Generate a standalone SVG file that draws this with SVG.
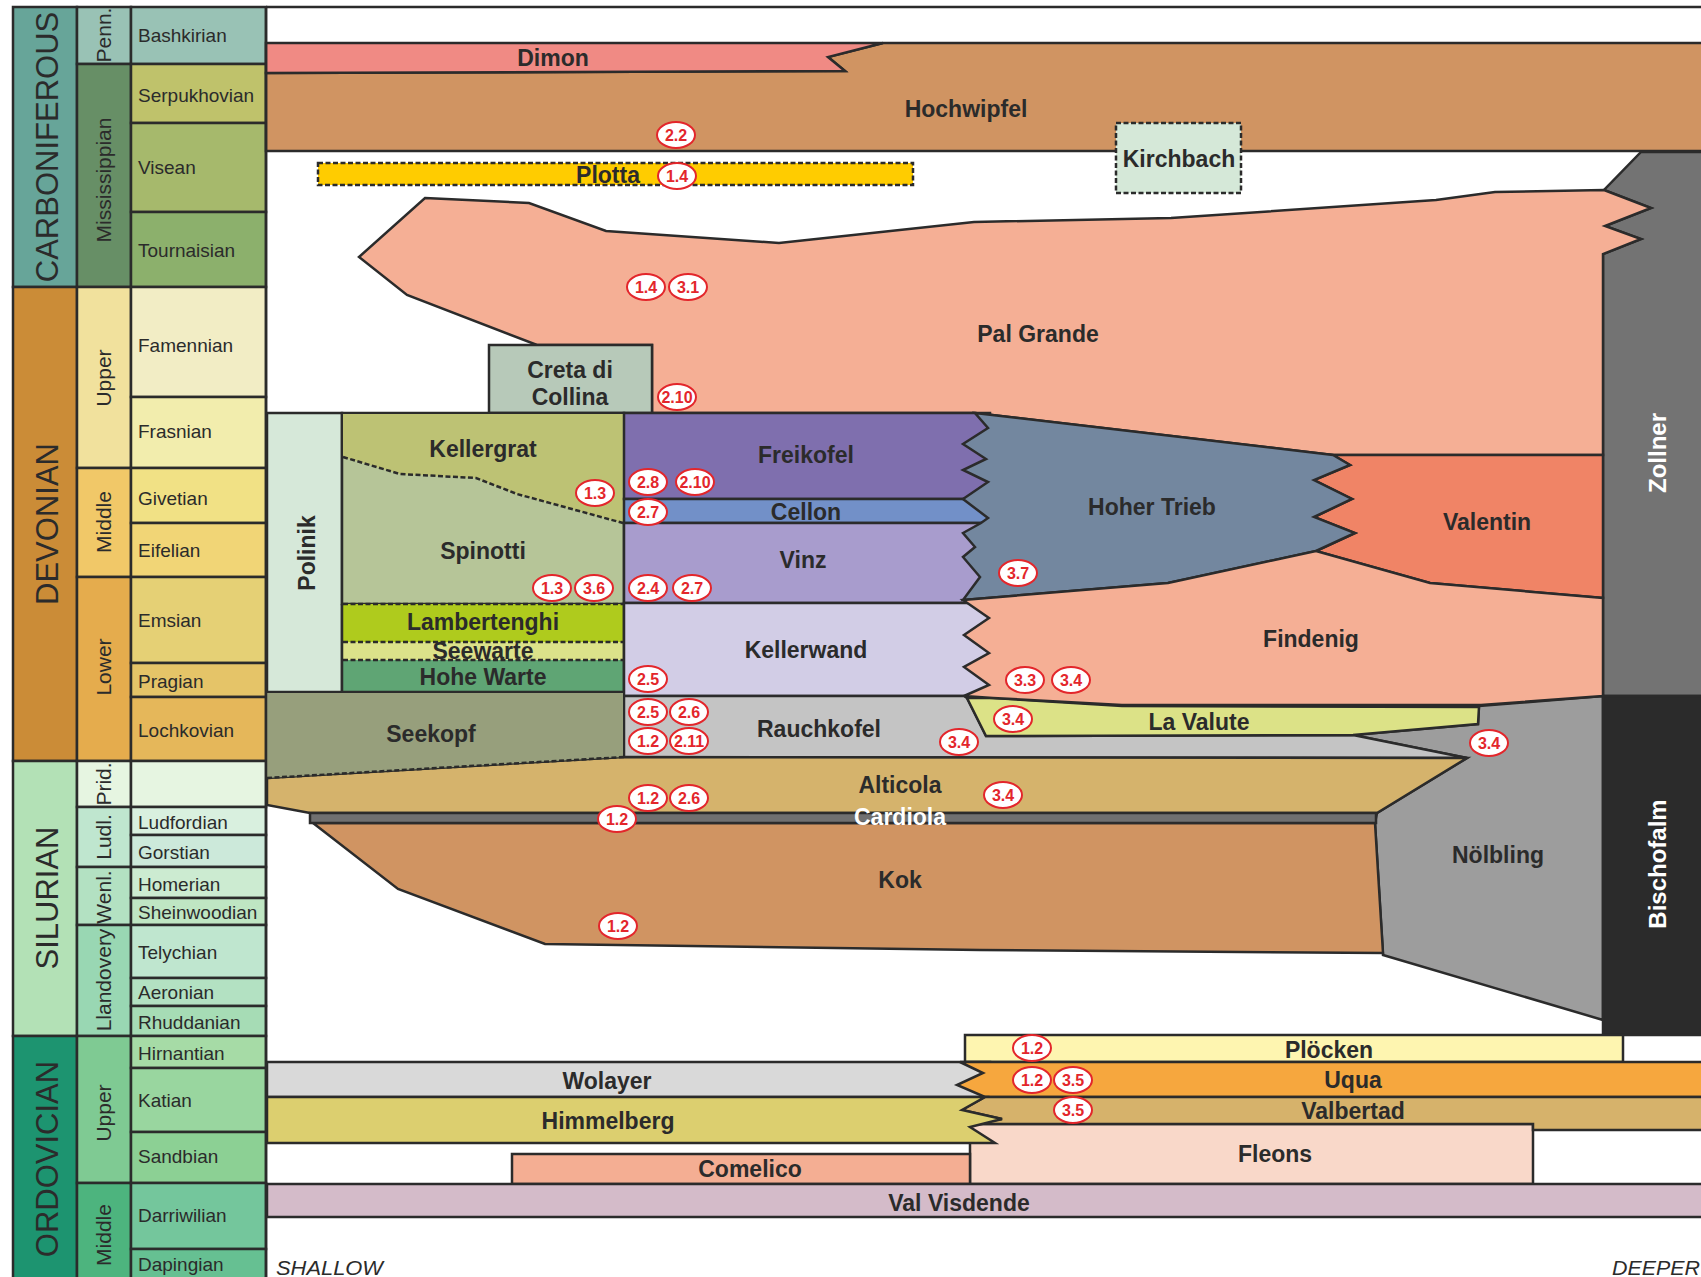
<svg xmlns="http://www.w3.org/2000/svg" width="1701" height="1277" viewBox="0 0 1701 1277">
<style>
.o{stroke:#2b2b2b;stroke-width:2.5;stroke-linejoin:miter}
.n{stroke:none}
.d{fill:none;stroke:#2b2b2b;stroke-width:2.5;stroke-dasharray:5 2.5}
.s{fill:none;stroke:#2b2b2b;stroke-width:2.5}
text{font-family:"Liberation Sans",Arial,sans-serif}
.l{font-weight:bold;font-size:23px;fill:#2b2b2b;text-anchor:middle}
.w{font-weight:bold;font-size:24px;fill:#ffffff;text-anchor:middle}
.st{font-size:19px;fill:#2b2b2b}
.ep{font-size:21px;fill:#2b2b2b;text-anchor:middle}
.pe{font-size:31px;fill:#2b2b2b;text-anchor:middle}
.it{font-size:20px;font-style:italic;fill:#2b2b2b}
.b text{font-weight:bold;font-size:16px;fill:#e3262b;text-anchor:middle}
</style>
<defs>
<ellipse id="bd" cx="0" cy="0" rx="19" ry="13" fill="#ffffff" stroke="#e3262b" stroke-width="2"/>
</defs>
<rect width="1701" height="1277" fill="#ffffff"/>

<g id="timescale">
<g id="periods">
<rect class="o" x="13" y="7" width="64" height="280" fill="#67a599"/>
<rect class="o" x="13" y="287" width="64" height="474" fill="#cb8c37"/>
<rect class="o" x="13" y="761" width="64" height="275" fill="#b3e1b6"/>
<rect class="o" x="13" y="1036" width="64" height="244" fill="#1d9470"/>
<text class="pe" transform="translate(58,147) rotate(-90)">CARBONIFEROUS</text>
<text class="pe" transform="translate(58,524) rotate(-90)">DEVONIAN</text>
<text class="pe" transform="translate(58,898) rotate(-90)">SILURIAN</text>
<text class="pe" transform="translate(58,1159) rotate(-90)">ORDOVICIAN</text>
</g>
<g id="epochs">
<rect class="o" x="77" y="7" width="54" height="57" fill="#99c2b5"/>
<rect class="o" x="77" y="64" width="54" height="223" fill="#678f66"/>
<rect class="o" x="77" y="287" width="54" height="181" fill="#f1e19d"/>
<rect class="o" x="77" y="468" width="54" height="109" fill="#f1c868"/>
<rect class="o" x="77" y="577" width="54" height="184" fill="#e5ac4d"/>
<rect class="o" x="77" y="761" width="54" height="46" fill="#e6f5e1"/>
<rect class="o" x="77" y="807" width="54" height="60" fill="#bfe6cf"/>
<rect class="o" x="77" y="867" width="54" height="58" fill="#b3e1c2"/>
<rect class="o" x="77" y="925" width="54" height="111" fill="#99d7b3"/>
<rect class="o" x="77" y="1036" width="54" height="147" fill="#7fca93"/>
<rect class="o" x="77" y="1183" width="54" height="97" fill="#4db47e"/>
<text class="ep" transform="translate(111,35) rotate(-90)">Penn.</text>
<text class="ep" transform="translate(111,180) rotate(-90)">Mississippian</text>
<text class="ep" transform="translate(111,378) rotate(-90)">Upper</text>
<text class="ep" transform="translate(111,522) rotate(-90)">Middle</text>
<text class="ep" transform="translate(111,667) rotate(-90)">Lower</text>
<text class="ep" transform="translate(111,784) rotate(-90)">Prid.</text>
<text class="ep" transform="translate(111,837) rotate(-90)">Ludl.</text>
<text class="ep" transform="translate(111,897) rotate(-90)">Wenl.</text>
<text class="ep" transform="translate(111,980) rotate(-90)">Llandovery</text>
<text class="ep" transform="translate(111,1113) rotate(-90)">Upper</text>
<text class="ep" transform="translate(111,1235) rotate(-90)">Middle</text>
</g>
<g id="stages">
<rect class="o" x="131" y="7" width="135" height="57" fill="#99c2b5"/>
<rect class="o" x="131" y="64" width="135" height="59" fill="#bfc26b"/>
<rect class="o" x="131" y="123" width="135" height="89" fill="#a6b96c"/>
<rect class="o" x="131" y="212" width="135" height="75" fill="#8cb06c"/>
<rect class="o" x="131" y="287" width="135" height="110" fill="#f2edc5"/>
<rect class="o" x="131" y="397" width="135" height="71" fill="#f2edad"/>
<rect class="o" x="131" y="468" width="135" height="55" fill="#f1e185"/>
<rect class="o" x="131" y="523" width="135" height="54" fill="#f1d576"/>
<rect class="o" x="131" y="577" width="135" height="86" fill="#e5d075"/>
<rect class="o" x="131" y="663" width="135" height="34" fill="#e5c468"/>
<rect class="o" x="131" y="697" width="135" height="64" fill="#e5b75a"/>
<rect class="o" x="131" y="761" width="135" height="46" fill="#e6f5e1"/>
<rect class="o" x="131" y="807" width="135" height="28" fill="#d9f0df"/>
<rect class="o" x="131" y="835" width="135" height="32" fill="#cce9da"/>
<rect class="o" x="131" y="867" width="135" height="31" fill="#ccebd1"/>
<rect class="o" x="131" y="898" width="135" height="27" fill="#bfe6c3"/>
<rect class="o" x="131" y="925" width="135" height="53" fill="#bfe6cf"/>
<rect class="o" x="131" y="978" width="135" height="28" fill="#b3e1c2"/>
<rect class="o" x="131" y="1006" width="135" height="30" fill="#a6dcb5"/>
<rect class="o" x="131" y="1036" width="135" height="32" fill="#a6dba6"/>
<rect class="o" x="131" y="1068" width="135" height="64" fill="#99d69f"/>
<rect class="o" x="131" y="1132" width="135" height="51" fill="#8cd094"/>
<rect class="o" x="131" y="1183" width="135" height="66" fill="#74c69c"/>
<rect class="o" x="131" y="1249" width="135" height="31" fill="#66c092"/>
<text class="st" x="138" y="42">Bashkirian</text>
<text class="st" x="138" y="102">Serpukhovian</text>
<text class="st" x="138" y="174">Visean</text>
<text class="st" x="138" y="257">Tournaisian</text>
<text class="st" x="138" y="352">Famennian</text>
<text class="st" x="138" y="438">Frasnian</text>
<text class="st" x="138" y="505">Givetian</text>
<text class="st" x="138" y="557">Eifelian</text>
<text class="st" x="138" y="627">Emsian</text>
<text class="st" x="138" y="688">Pragian</text>
<text class="st" x="138" y="737">Lochkovian</text>
<text class="st" x="138" y="829">Ludfordian</text>
<text class="st" x="138" y="859">Gorstian</text>
<text class="st" x="138" y="891">Homerian</text>
<text class="st" x="138" y="919">Sheinwoodian</text>
<text class="st" x="138" y="959">Telychian</text>
<text class="st" x="138" y="999">Aeronian</text>
<text class="st" x="138" y="1029">Rhuddanian</text>
<text class="st" x="138" y="1060">Hirnantian</text>
<text class="st" x="138" y="1107">Katian</text>
<text class="st" x="138" y="1163">Sandbian</text>
<text class="st" x="138" y="1222">Darriwilian</text>
<text class="st" x="138" y="1271">Dapingian</text>
</g>
</g>

<g id="frame"><line class="s" x1="266" y1="7" x2="1701" y2="7"/></g>

<g id="units">
<g id="hochwipfel"><polygon class="o" fill="#d09462" points="266,73 845,71 828,57 883,43 1703,43 1703,151 266,151"/><text class="l" x="966" y="117">Hochwipfel</text></g>
<g id="dimon"><polygon class="o" fill="#f08a84" points="266,43 883,43 828,57 845,71 266,73"/><text class="l" x="553" y="66">Dimon</text></g>
<g id="kirchbach"><rect x="1116" y="123" width="125" height="70" fill="#d5e8d8"/><rect class="d" x="1116" y="123" width="125" height="70"/><text class="l" x="1179" y="167">Kirchbach</text></g>
<g id="plotta"><rect x="318" y="163" width="595" height="22" fill="#ffcc00"/><rect class="d" x="318" y="163" width="595" height="22"/><text class="l" x="608" y="183">Plotta</text></g>
<g id="zollner"><polygon class="o" fill="#737373" points="1641,152 1703,152 1703,696 1603,696 1603,254 1641,239 1605,226 1651,208 1604,190"/><text class="w" transform="translate(1666,453) rotate(-90)">Zollner</text></g>
<g id="pal-grande"><polygon class="o" fill="#f5af95" points="425,198 529,203 606,231 779,243 974,222 1171,218 1436,200 1495,192 1604,190 1651,208 1605,226 1641,239 1603,254 1603,455 1333,455 975,413 652,413 652,345 537,345 407,295 359,257"/><text class="l" x="1038" y="342">Pal Grande</text></g>
<g id="creta-di-collina"><rect class="o" x="489" y="345" width="163" height="68" fill="#b7c9b9"/><text class="l" x="570" y="378">Creta di</text><text class="l" x="570" y="405">Collina</text></g>
<g id="polinik"><rect class="o" x="267" y="413" width="75" height="279" fill="#d6e8d9"/><text class="l" transform="translate(315,553) rotate(-90)">Polinik</text></g>
<g id="spinotti"><rect class="o" x="342" y="413" width="282" height="191" fill="#b6c598"/><text class="l" x="483" y="559">Spinotti</text></g>
<g id="kellergrat"><polygon class="n" fill="#bdc274" points="343,414 623,414 623,523 517,494 476,478 400,474 343,457"/><polyline class="d" points="343,457 400,474 476,478 517,494 623,523"/><text class="l" x="483" y="457">Kellergrat</text></g>
<g id="lambertenghi"><rect x="342" y="604" width="282" height="38" fill="#afcb1d"/><text class="l" x="483" y="630">Lambertenghi</text></g>
<g id="seewarte"><rect x="342" y="642" width="282" height="18" fill="#dce28a"/><text class="l" x="483" y="659">Seewarte</text></g>
<g id="hohe-warte"><rect x="342" y="660" width="282" height="32" fill="#5fa574"/><text class="l" x="483" y="685">Hohe Warte</text></g>
<g id="lamb-lines"><line class="d" x1="343" y1="604" x2="623" y2="604"/><line class="d" x1="343" y1="642" x2="623" y2="642"/><line class="d" x1="343" y1="660" x2="623" y2="660"/><polyline class="s" points="342,604 342,692 624,692 624,604"/></g>
<g id="freikofel"><rect class="o" x="624" y="413" width="366" height="86" fill="#7f6fae"/><text class="l" x="806" y="463">Freikofel</text></g>
<g id="cellon"><rect class="o" x="624" y="499" width="366" height="24" fill="#7290c8"/><text class="l" x="806" y="520">Cellon</text></g>
<g id="vinz"><rect class="o" x="624" y="523" width="366" height="80" fill="#a89ccd"/><text class="l" x="803" y="568">Vinz</text></g>
<g id="kellerwand"><rect class="o" x="624" y="603" width="366" height="93" fill="#d2cde6"/><text class="l" x="806" y="658">Kellerwand</text></g>
<g id="valentin"><polygon class="o" fill="#f08466" points="1333,455 1603,455 1603,598 1430,583 1316,551 1355,533 1314,517 1352,499 1314,480 1350,465"/><text class="l" x="1487" y="530">Valentin</text></g>
<g id="hoher-trieb"><polygon class="o" fill="#73879f" points="975,413 1333,455 1350,465 1314,480 1352,499 1314,517 1355,533 1316,551 1168,583 963,600 980,577 963,557 975,547 963,533 981,523 988,518 963,499 988,482 963,470 986,459 963,444 988,428"/><text class="l" x="1152" y="515">Hoher Trieb</text></g>
<g id="nolbling"><polygon class="o" fill="#9d9d9d" points="1467,758 1353,735 1478,724 1479,706 1603,696 1603,1020 1383,955 1375,823 1377,813"/><text class="l" x="1498" y="863">Nölbling</text></g>
<g id="rauchkofel"><polygon class="o" fill="#c4c4c4" points="624,696 964,696 967,698 986,736 1353,735 1467,758 624,757"/><text class="l" x="819" y="737">Rauchkofel</text></g>
<g id="la-valute"><polygon class="o" fill="#dce287" points="967,698 993,698 1122,706 1479,707 1478,724 1353,735 986,736"/><text class="l" x="1199" y="730">La Valute</text></g>
<g id="findenig"><polygon class="o" fill="#f5af95" points="963,600 1168,583 1316,551 1430,583 1603,598 1603,696 1481,705 1122,705 993,698 964,696 989,685 964,667 989,653 964,635 989,618"/><text class="l" x="1311" y="647">Findenig</text></g>
<g id="alticola"><polygon class="o" fill="#d5b36c" points="267,778 624,757 1467,758 1377,813 310,813 267,805"/><text class="l" x="900" y="793">Alticola</text></g>
<g id="seekopf"><polygon class="n" fill="#979f7c" points="267,693 623,693 623,757 267,778"/><line class="d" x1="267" y1="778" x2="624" y2="757"/><text class="l" x="431" y="742">Seekopf</text></g>
<g id="kok"><polygon class="o" fill="#d09462" points="313,823 1375,823 1383,953 980,950 545,944 398,889"/><text class="l" x="900" y="888">Kok</text></g>
<g id="cardiola"><rect class="o" x="310" y="813" width="1066" height="10" fill="#707070"/><text class="w" x="900" y="825" style="font-size:23px">Cardiola</text></g>
<g id="bischofalm"><rect class="o" x="1603" y="696" width="100" height="339" fill="#2b2b2b"/><text class="w" transform="translate(1666,864) rotate(-90)">Bischofalm</text></g>
<g id="plocken"><rect class="o" x="965" y="1035" width="658" height="27" fill="#fef5b0"/><text class="l" x="1329" y="1058">Plöcken</text></g>
<g id="fleons"><rect class="o" x="970" y="1124" width="563" height="60" fill="#f9d8c9"/><text class="l" x="1275" y="1162">Fleons</text></g>
<g id="comelico"><rect class="o" x="512" y="1154" width="458" height="30" fill="#f4ae93"/><text class="l" x="750" y="1177">Comelico</text></g>
<g id="wolayer"><rect class="o" x="267" y="1062" width="723" height="35" fill="#d9d9d9"/><text class="l" x="607" y="1089">Wolayer</text></g>
<g id="uqua"><polygon class="o" fill="#f6a73e" points="960,1062 1703,1062 1703,1097 985,1097 957,1085 983,1073"/><text class="l" x="1353" y="1088">Uqua</text></g>
<g id="valbertad"><polygon class="o" fill="#d6b26b" points="985,1097 1703,1097 1703,1130 1533,1130 1533,1124 970,1124 1002,1119 962,1110"/><text class="l" x="1353" y="1119">Valbertad</text></g>
<g id="himmelberg"><polygon class="o" fill="#dccf6f" points="267,1097 985,1097 962,1110 1002,1119 970,1127 995,1143 267,1143"/><text class="l" x="608" y="1129">Himmelberg</text></g>
<g id="val-visdende"><rect class="o" x="267" y="1184" width="1436" height="33" fill="#d4bbc9"/><text class="l" x="959" y="1211">Val Visdende</text></g>
</g>

<g id="chart-edge"><line class="s" x1="266" y1="7" x2="266" y2="1277"/></g>

<g id="badges" class="b">
<g transform="translate(676,135)"><use href="#bd"/><text y="6">2.2</text></g>
<g transform="translate(677,176)"><use href="#bd"/><text y="6">1.4</text></g>
<g transform="translate(646,287)"><use href="#bd"/><text y="6">1.4</text></g>
<g transform="translate(688,287)"><use href="#bd"/><text y="6">3.1</text></g>
<g transform="translate(677,397)"><use href="#bd"/><text y="6">2.10</text></g>
<g transform="translate(595,493)"><use href="#bd"/><text y="6">1.3</text></g>
<g transform="translate(648,482)"><use href="#bd"/><text y="6">2.8</text></g>
<g transform="translate(695,482)"><use href="#bd"/><text y="6">2.10</text></g>
<g transform="translate(648,512)"><use href="#bd"/><text y="6">2.7</text></g>
<g transform="translate(552,588)"><use href="#bd"/><text y="6">1.3</text></g>
<g transform="translate(594,588)"><use href="#bd"/><text y="6">3.6</text></g>
<g transform="translate(648,588)"><use href="#bd"/><text y="6">2.4</text></g>
<g transform="translate(692,588)"><use href="#bd"/><text y="6">2.7</text></g>
<g transform="translate(1018,573)"><use href="#bd"/><text y="6">3.7</text></g>
<g transform="translate(648,679)"><use href="#bd"/><text y="6">2.5</text></g>
<g transform="translate(1025,680)"><use href="#bd"/><text y="6">3.3</text></g>
<g transform="translate(1071,680)"><use href="#bd"/><text y="6">3.4</text></g>
<g transform="translate(648,712)"><use href="#bd"/><text y="6">2.5</text></g>
<g transform="translate(689,712)"><use href="#bd"/><text y="6">2.6</text></g>
<g transform="translate(1013,719)"><use href="#bd"/><text y="6">3.4</text></g>
<g transform="translate(648,741)"><use href="#bd"/><text y="6">1.2</text></g>
<g transform="translate(689,741)"><use href="#bd"/><text y="6">2.11</text></g>
<g transform="translate(959,742)"><use href="#bd"/><text y="6">3.4</text></g>
<g transform="translate(1489,743)"><use href="#bd"/><text y="6">3.4</text></g>
<g transform="translate(648,798)"><use href="#bd"/><text y="6">1.2</text></g>
<g transform="translate(689,798)"><use href="#bd"/><text y="6">2.6</text></g>
<g transform="translate(1003,795)"><use href="#bd"/><text y="6">3.4</text></g>
<g transform="translate(617,819)"><use href="#bd"/><text y="6">1.2</text></g>
<g transform="translate(618,926)"><use href="#bd"/><text y="6">1.2</text></g>
<g transform="translate(1032,1048)"><use href="#bd"/><text y="6">1.2</text></g>
<g transform="translate(1032,1080)"><use href="#bd"/><text y="6">1.2</text></g>
<g transform="translate(1073,1080)"><use href="#bd"/><text y="6">3.5</text></g>
<g transform="translate(1073,1110)"><use href="#bd"/><text y="6">3.5</text></g>
</g>

<g id="axis-labels">
<text class="it" x="276" y="1275" textLength="107" lengthAdjust="spacingAndGlyphs">SHALLOW</text>
<text class="it" x="1612" y="1275" textLength="88" lengthAdjust="spacingAndGlyphs">DEEPER</text>
</g>
</svg>
